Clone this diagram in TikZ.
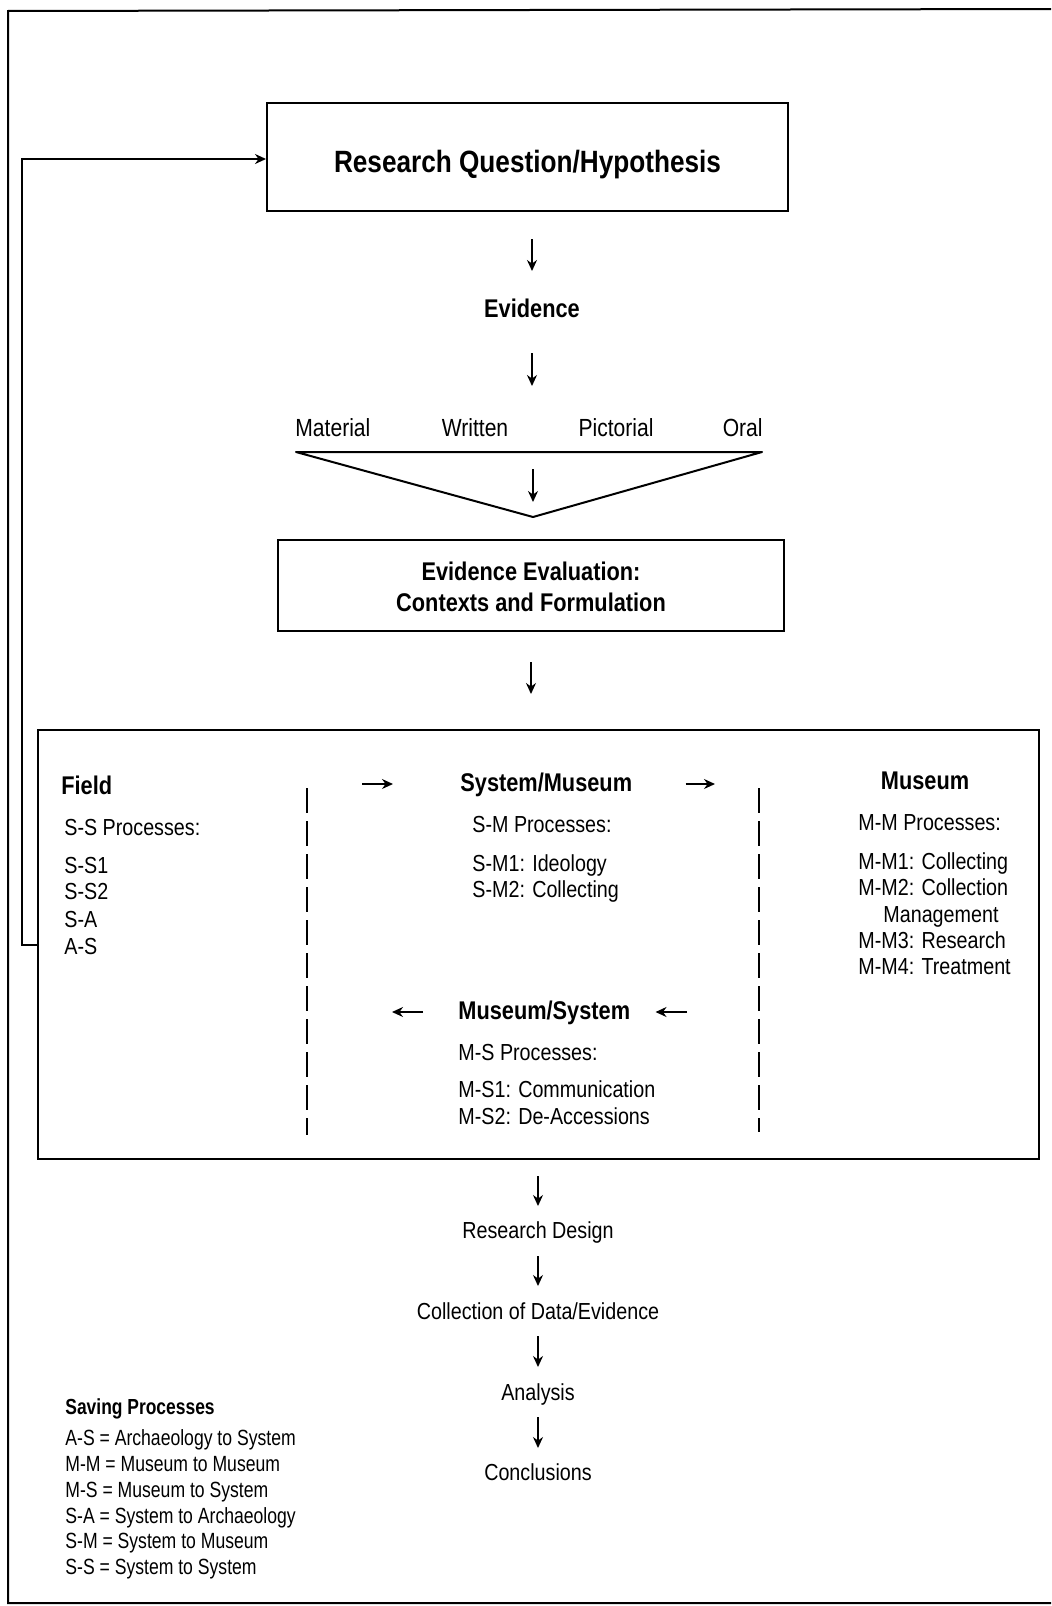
\documentclass[tikz,border=0pt]{standalone}
\usepackage{fontspec}
\setmainfont[FakeStretch=0.85]{Liberation Sans}
\newfontfamily\condfont[FakeStretch=0.8]{Liberation Sans}
\usetikzlibrary{arrows.meta,calc}
\begin{document}
\begin{tikzpicture}[x=0.5pt,y=-0.5pt,
  reg/.style={font=\fontsize{11.6}{14}\selectfont},
  mreg/.style={font=\fontsize{12.4}{14}\selectfont},
  bld/.style={font=\fontsize{12.8}{16}\selectfont\bfseries},
  ttl/.style={font=\fontsize{15.4}{18}\selectfont\bfseries},
  lreg/.style={font=\condfont\fontsize{11}{12}\selectfont},
  lbld/.style={font=\condfont\fontsize{10.9}{12}\selectfont\bfseries},
  txt/.style={inner sep=0pt, text height=0.72em, text depth=0pt},
  arr/.style={-{Stealth[length=5.5pt,width=5pt]}, line width=0.75pt},
  box/.style={draw, line width=1pt, inner sep=0pt},
  dsh/.style={line width=1.4pt, dash pattern=on 12.5pt off 4pt}]
\useasboundingbox (0,0) rectangle (1051,1606);
% outer frame
\draw[line width=1pt] (1051,9) -- (8,11) -- (8,1603) -- (1051,1603);

% top part
\node[box, minimum width=260.5pt, minimum height=54pt, ttl, text height=15pt, text depth=0pt] (rq) at (527.5,157) {Research Question/Hypothesis};
\node[txt, bld] (ev) at (532,310) {Evidence};
\draw[arr, shorten <=13.5pt, shorten >=19.5pt] (rq.south -| ev.center) -- (ev.center);

\coordinate (fl) at (296,452);
\coordinate (fr) at (762,452);
\coordinate (fa) at (533,517);
\draw[line width=1pt, line join=round] (fl) -- (fr) -- (fa) -- cycle;
\draw[arr, shorten <=21.5pt, shorten >=33pt] (ev.center) -- (ev.center |- fl);
\draw[arr, shorten <=8.5pt, shorten >=7.5pt] (fa |- fl) -- (fa);

\node[txt, mreg, anchor=west] (mat) at (295,429) {Material};
\node[txt, mreg] (wri) at (475,429) {Written};
\node[txt, mreg] (pic) at (616,429) {Pictorial};
\node[txt, mreg, anchor=east] (ora) at (763,429) {Oral};

\node[box, minimum width=253pt, minimum height=45.5pt] (eeb) at (531,585.5) {};
\node[txt, bld] (eev1) at (531,573) {Evidence Evaluation:};
\node[txt, bld] (eev2) at (531,604) {Contexts and Formulation};

% big box
\node[box, minimum width=500.5pt, minimum height=214.5pt] (big) at (538.5,944.5) {};
\draw[arr, shorten <=15pt, shorten >=17.5pt] (eeb.south) -- (eeb.south |- big.north);

\coordinate (d1t) at (307,788);
\coordinate (d1b) at (307,1135);
\coordinate (d2t) at (759,788);
\coordinate (d2b) at (759,1132);
\draw[dsh] (d1t) -- (d1b);
\draw[dsh] (d2t) -- (d2b);

% Field column
\node[txt, bld, anchor=west] (fld) at (61,787) {Field};
\node[txt, reg, anchor=west] (ssp) at (64,828) {S-S Processes:};
\node[txt, reg, anchor=west] (ss1) at (64,866) {S-S1};
\node[txt, reg, anchor=west] (ss2) at (64,892) {S-S2};
\node[txt, reg, anchor=west] (sa) at (64,920) {S-A};
\node[txt, reg, anchor=west] (as) at (64,947) {A-S};

% System/Museum column
\node[txt, bld, anchor=west] (sm) at (460,784) {System/Museum};
\node[txt, reg, anchor=west] (smp) at (472,825) {S-M Processes:};
\node[txt, reg, anchor=west] (sm1) at (472,864) {S-M1: Ideology};
\node[txt, reg, anchor=west] (sm2) at (472,890) {S-M2: Collecting};
\draw[arr, shorten <=27.5pt, shorten >=33.5pt] (sm.west -| d1t) -- (sm.west);
\draw[arr, shorten <=26.5pt, shorten >=22pt] (sm.east) -- (sm.east -| d2t);

\node[txt, bld, anchor=west] (ms) at (458,1012) {Museum/System};
\node[txt, reg, anchor=west] (msp) at (458,1053) {M-S Processes:};
\node[txt, reg, anchor=west] (ms1) at (458,1090) {M-S1: Communication};
\node[txt, reg, anchor=west] (ms2) at (458,1117) {M-S2: De-Accessions};
\draw[arr, shorten <=17.5pt, shorten >=42.5pt] (ms.west) -- (ms.west -| d1t);
\draw[arr, shorten <=36pt, shorten >=12.5pt] (ms.east -| d2t) -- (ms.east);

% Museum column
\node[txt, bld] (mu) at (925,782) {Museum};
\node[txt, reg, anchor=west] (mmp) at (858,823) {M-M Processes:};
\node[txt, reg, anchor=west] (mm1) at (858,862) {M-M1: Collecting};
\node[txt, reg, anchor=west] (mm2) at (858,888) {M-M2: Collection};
\node[txt, reg, anchor=west] (mm2b) at (883,915) {Management};
\node[txt, reg, anchor=west] (mm3) at (858,941) {M-M3: Research};
\node[txt, reg, anchor=west] (mm4) at (858,967) {M-M4: Treatment};

% feedback
\draw[arr, line width=1pt] (big.west) -- ++(-15,0) |- ([yshift=-1pt]rq.west);

% lower flow
\node[txt, reg] (rd) at (538,1231) {Research Design};
\node[txt, reg] (cd) at (538,1312) {Collection of Data/Evidence};
\node[txt, reg] (an) at (538,1393) {Analysis};
\node[txt, reg] (co) at (538,1473) {Conclusions};
\draw[arr, shorten <=8pt, shorten >=12.5pt] (big.south -| rd.center) -- (rd.center);
\draw[arr, shorten <=12.5pt, shorten >=13pt] (rd.center) -- (cd.center);
\draw[arr, shorten <=12pt, shorten >=13pt] (cd.center) -- (an.center);
\draw[arr, shorten <=12pt, shorten >=12.5pt] (an.center) -- (co.center);

% legend
\node[txt, lbld, anchor=west] (sp) at (65,1407) {Saving Processes};
\node[txt, lreg, anchor=west] (l1) at (65,1438) {A-S = Archaeology to System};
\node[txt, lreg, anchor=west] (l2) at (65,1464) {M-M = Museum to Museum};
\node[txt, lreg, anchor=west] (l3) at (65,1490) {M-S = Museum to System};
\node[txt, lreg, anchor=west] (l4) at (65,1516) {S-A = System to Archaeology};
\node[txt, lreg, anchor=west] (l5) at (65,1541) {S-M = System to Museum};
\node[txt, lreg, anchor=west] (l6) at (65,1567) {S-S = System to System};
\end{tikzpicture}
\end{document}
